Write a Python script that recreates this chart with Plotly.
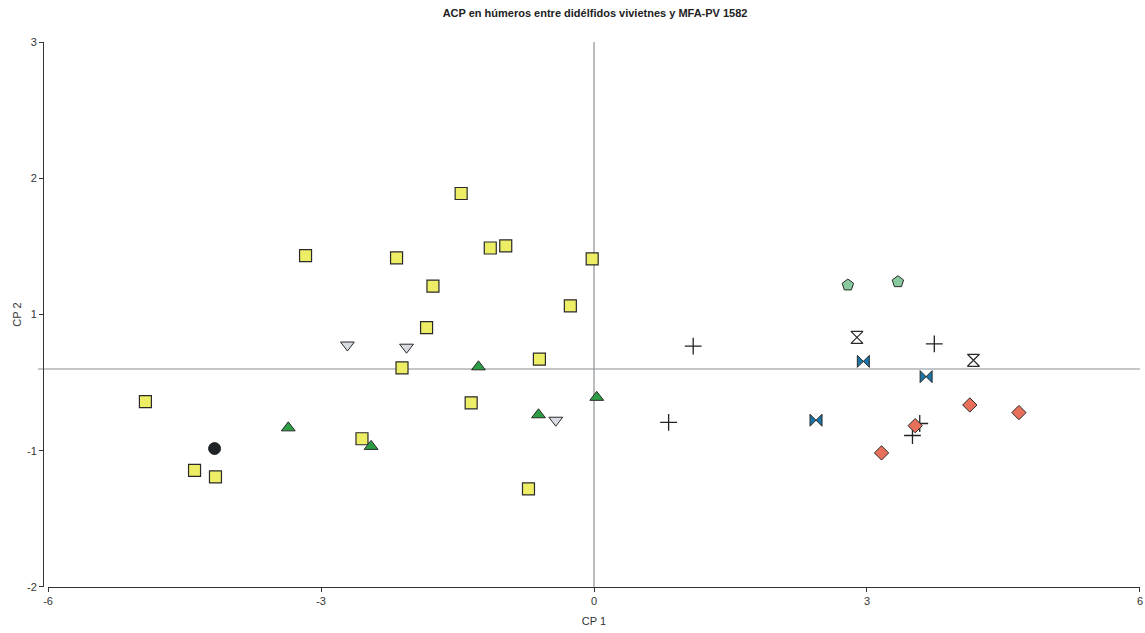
import plotly.graph_objects as go

title = "ACP en húmeros entre didélfidos vivietnes y MFA-PV 1582"

sq_x = [-4.93, -4.39, -4.16, -3.17, -2.55, -2.17, -2.11, -1.84, -1.77, -1.46, -1.35, -1.14, -0.97, -0.72, -0.60, -0.26, -0.02]
sq_y = [-0.30, -0.93, -0.99, 1.04, -0.64, 1.02, 0.01, 0.38, 0.76, 1.61, -0.31, 1.11, 1.13, -1.10, 0.09, 0.58, 1.01]

tu_x = [-3.36, -2.45, -1.27, -0.61, 0.03]
tu_y = [-0.54, -0.71, 0.02, -0.42, -0.26]

td_x = [-2.71, -2.06, -0.42]
td_y = [0.22, 0.20, -0.47]

ci_x = [-4.17]
ci_y = [-0.73]

cr_x = [1.09, 0.82, 3.74, 3.58, 3.50]
cr_y = [0.21, -0.49, 0.23, -0.50, -0.61]

pe_x = [2.79, 3.34]
pe_y = [0.77, 0.80]

hg_x = [2.89, 4.17]
hg_y = [0.29, 0.08]

bt_x = [2.96, 3.65, 2.44]
bt_y = [0.07, -0.07, -0.47]

di_x = [3.16, 3.53, 4.13, 4.67]
di_y = [-0.77, -0.52, -0.33, -0.40]

x_ticks = [-6, -3, 0, 3, 6]
x_ticktext = ["-6", "-3", "0", "3", "6"]
y_tickvals = [-2, -0.75, 0.5, 1.75, 3]
y_ticktext = ["-2", "-1", "1", "2", "3"]

edge = "#2a2a2a"
txt = "#333333"
fig = go.Figure()

def add(x, y, symbol, fill, size, lw=1, lc=edge):
    fig.add_trace(go.Scatter(x=x, y=y, mode="markers", cliponaxis=False,
                             marker=dict(symbol=symbol, color=fill, size=size,
                                         line=dict(color=lc, width=lw)),
                             showlegend=False, hoverinfo="x+y"))

# origin lines
fig.add_shape(type="line", xref="x", yref="y", x0=0, x1=0, y0=-2, y1=3,
              line=dict(color="#8a9096", width=1.2), layer="below")
fig.add_shape(type="line", xref="paper", yref="y", x0=-0.00456, x1=1, y0=0, y1=0,
              line=dict(color="#8a9096", width=1.2), layer="below")

add(sq_x, sq_y, "square", "#EEEE66", 12, 1.2)
add(tu_x, tu_y, "triangle-up", "#2E9E44", 12, 1)
add(td_x, td_y, "triangle-down", "#D8DCE2", 12, 1)
add(ci_x, ci_y, "circle", "#1E2328", 12, 1)
add(cr_x, cr_y, "cross-thin", "#222222", 12, 1.3, "#222222")
add(pe_x, pe_y, "pentagon", "#88C9A0", 12, 1)
add(hg_x, hg_y, "hourglass", "#FFFFFF", 12, 1.2)
add(bt_x, bt_y, "bowtie", "#1B75A8", 12, 1)
add(di_x, di_y, "diamond", "#E8705A", 11, 1)

fig.update_layout(
    width=1145, height=633,
    margin=dict(l=43, r=5, t=42, b=46, autoexpand=False),
    plot_bgcolor="white", paper_bgcolor="white",
    font=dict(family="Liberation Sans, Arial, sans-serif", size=11, color=txt),
    title=dict(text="<b>" + title + "</b>", x=0.5197, xanchor="center", y=0.979, yanchor="middle",
               font=dict(size=11, color="#222222")),
    xaxis=dict(range=[-6.0005, 6.0005], domain=[0.00456, 1], tickvals=x_ticks, ticktext=x_ticktext,
               automargin=False, tickfont=dict(color=txt, size=11), ticklabeloverflow="allow",
               showgrid=False, zeroline=False, showline=True, linecolor="#333333", linewidth=1,
               ticks="outside", ticklen=4, tickcolor="#333333",
               title=dict(text="CP 1", standoff=11, font=dict(size=11, color=txt))),
    yaxis=dict(range=[-2.0002, 3.0002], anchor="free", position=0, tickvals=y_tickvals, ticktext=y_ticktext,
               automargin=False, tickfont=dict(color=txt, size=11),
               showgrid=False, zeroline=False, showline=True, linecolor="#333333", linewidth=1,
               ticks="outside", ticklen=4, tickcolor="#333333",
               title=dict(text="CP 2", standoff=2, font=dict(size=11, color=txt))),
)

fig.write_html("out.html", config={"displayModeBar": False},
               post_script="document.body.style.margin='0';document.body.style.overflow='hidden';")
